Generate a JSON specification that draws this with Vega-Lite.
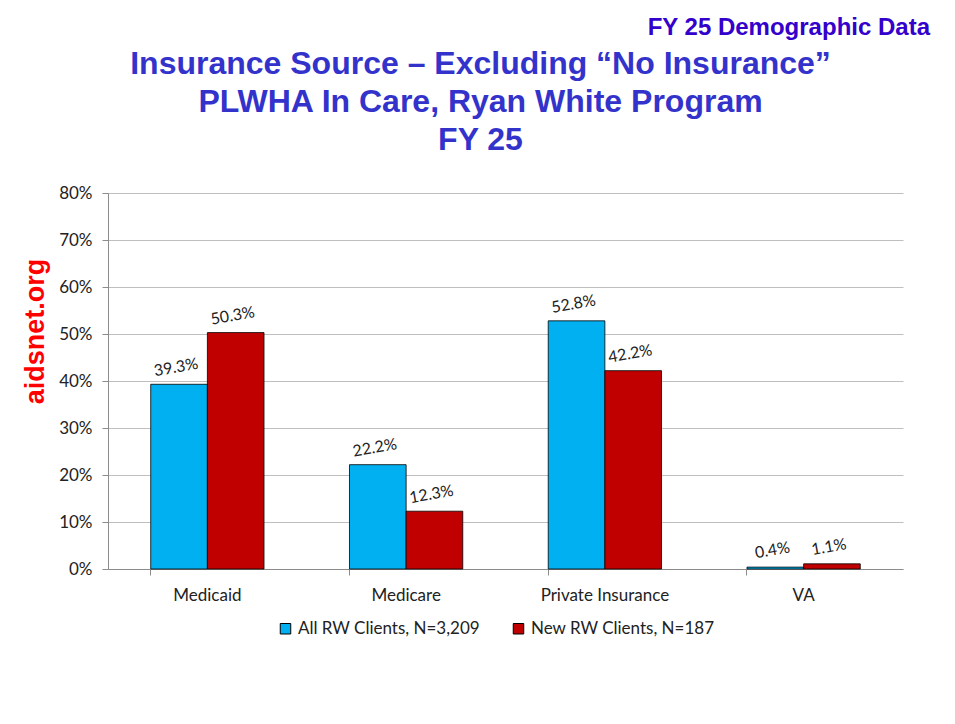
{
  "$schema": "https://vega.github.io/schema/vega-lite/v6.json",
  "width": 795,
  "height": 376,
  "autosize": {"type": "none"},
  "padding": {"left": 108, "top": 193, "right": 52, "bottom": 155},
  "background": "white",
  "title": {
    "text": "FY 25 Demographic Data",
    "anchor": "end",
    "frame": "group",
    "font": "Liberation Sans",
    "fontSize": 24,
    "fontWeight": "bold",
    "color": "#3300CC",
    "offset": 7,
    "dx": 27
  },
  "data": {
    "values": [
      {"category": "Medicaid", "series": "All RW Clients, N=3,209", "value": 0.393},
      {"category": "Medicaid", "series": "New RW Clients, N=187", "value": 0.503},
      {"category": "Medicare", "series": "All RW Clients, N=3,209", "value": 0.222},
      {"category": "Medicare", "series": "New RW Clients, N=187", "value": 0.123},
      {"category": "Private Insurance", "series": "All RW Clients, N=3,209", "value": 0.528},
      {"category": "Private Insurance", "series": "New RW Clients, N=187", "value": 0.422},
      {"category": "VA", "series": "All RW Clients, N=3,209", "value": 0.004},
      {"category": "VA", "series": "New RW Clients, N=187", "value": 0.011}
    ]
  },
  "layer": [
    {
      "mark": {"type": "bar", "stroke": "#000000", "strokeWidth": 0.8},
      "encoding": {
        "x": {
          "field": "category",
          "type": "nominal",
          "sort": ["Medicaid", "Medicare", "Private Insurance", "VA"],
          "scale": {"paddingInner": 0.43, "paddingOuter": 0.215},
          "axis": {
            "orient": "bottom",
            "title": null,
            "labelAngle": 0,
            "labelFont": "Lato",
            "labelFontSize": 17,
            "labelColor": "#222222",
            "labelPadding": 12,
            "domainColor": "#8C8C8C",
            "tickColor": "#8C8C8C",
            "tickSize": 6,
            "bandPosition": 0,
            "grid": false
          }
        },
        "xOffset": {
          "field": "series",
          "sort": ["All RW Clients, N=3,209", "New RW Clients, N=187"],
          "scale": {"paddingInner": 0, "paddingOuter": 0}
        },
        "y": {
          "field": "value",
          "type": "quantitative",
          "scale": {"domain": [0, 0.8]},
          "axis": {
            "format": ".0%",
            "values": [0, 0.1, 0.2, 0.3, 0.4, 0.5, 0.6, 0.7, 0.8],
            "labelFont": "Lato",
            "labelFontSize": 17,
            "labelColor": "#222222",
            "labelPadding": 10,
            "domainColor": "#8C8C8C",
            "tickColor": "#8C8C8C",
            "tickSize": 6,
            "gridColor": "#BFBFBF",
            "gridWidth": 1,
            "title": "aidsnet.org",
            "titleFont": "Liberation Sans",
            "titleFontSize": 27,
            "titleFontWeight": "bold",
            "titleColor": "#FF0000",
            "titleAngle": -90,
            "titleAlign": "center",
            "titleBaseline": "middle",
            "titleX": -73,
            "titleY": 138
          }
        },
        "color": {
          "field": "series",
          "type": "nominal",
          "sort": ["All RW Clients, N=3,209", "New RW Clients, N=187"],
          "scale": {"range": ["#00B0F0", "#C00000"]},
          "legend": {
            "title": null,
            "orient": "none",
            "direction": "horizontal",
            "legendX": 169,
            "legendY": 427,
            "symbolType": "square",
            "symbolSize": 110,
            "symbolStrokeColor": "#000000",
            "symbolStrokeWidth": 1,
            "symbolOpacity": 1,
            "labelFont": "Lato",
            "labelFontSize": 17,
            "labelColor": "#222222",
            "labelLimit": 400,
            "columnPadding": 30,
            "labelOffset": 4
          }
        }
      }
    },
    {
      "mark": {"type": "text", "angle": 350, "dy": -17, "font": "Lato", "fontSize": 16, "color": "#222222"},
      "encoding": {
        "x": {
          "field": "category",
          "type": "nominal",
          "sort": ["Medicaid", "Medicare", "Private Insurance", "VA"],
          "axis": {
            "orient": "top",
            "labels": false,
            "ticks": false,
            "domain": false,
            "grid": false,
            "title": ["Insurance Source – Excluding “No Insurance”", "PLWHA In Care, Ryan White Program", "FY 25"],
            "titleFont": "Liberation Sans",
            "titleFontSize": 32,
            "titleFontWeight": "bold",
            "titleColor": "#3333CC",
            "titleLineHeight": 38,
            "titleAnchor": "start",
            "titleAlign": "center",
            "titleX": 372,
            "titlePadding": 37
          }
        },
        "xOffset": {
          "field": "series",
          "sort": ["All RW Clients, N=3,209", "New RW Clients, N=187"]
        },
        "y": {
          "field": "value",
          "type": "quantitative",
          "axis": {
            "format": ".0%",
            "values": [0, 0.1, 0.2, 0.3, 0.4, 0.5, 0.6, 0.7, 0.8],
            "labelFont": "Lato",
            "labelFontSize": 17,
            "labelColor": "#222222",
            "labelPadding": 10,
            "domainColor": "#8C8C8C",
            "tickColor": "#8C8C8C",
            "tickSize": 6,
            "gridColor": "#BFBFBF",
            "gridWidth": 1,
            "title": "aidsnet.org",
            "titleFont": "Liberation Sans",
            "titleFontSize": 27,
            "titleFontWeight": "bold",
            "titleColor": "#FF0000",
            "titleAngle": -90,
            "titleAlign": "center",
            "titleBaseline": "middle",
            "titleX": -73,
            "titleY": 138
          }
        },
        "text": {"field": "value", "type": "quantitative", "format": ".1%"}
      }
    }
  ],
  "resolve": {"axis": {"x": "independent"}},
  "config": {"view": {"stroke": null}}
}
